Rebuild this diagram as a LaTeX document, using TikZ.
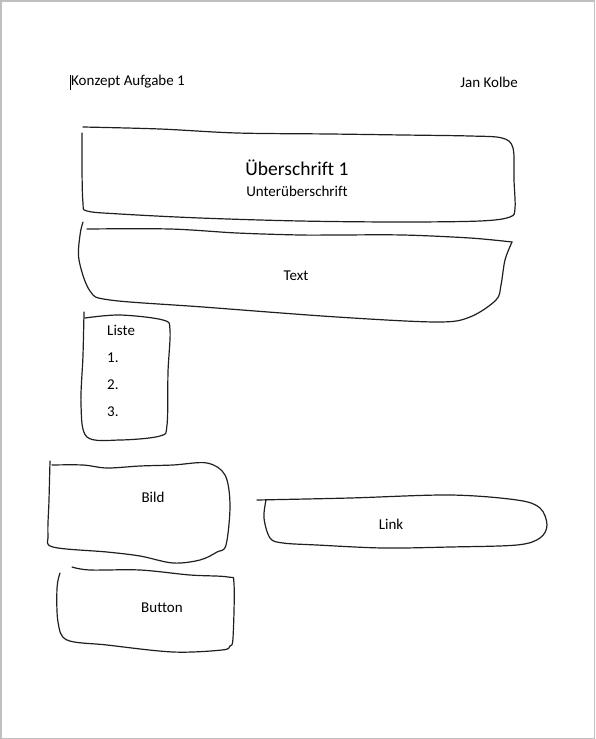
\documentclass[tikz,border=0pt]{standalone}
\usepackage{fontspec}
\setmainfont{Carlito}[Ligatures=NoCommon]
\begin{document}
\begin{tikzpicture}[x=1pt,y=-1pt,
  sketch/.style={line width=1.2pt, draw=black!88, line cap=round, line join=round},
  lbl/.style={inner sep=0pt, font=\fontsize{15}{18}\selectfont},
  head/.style={inner sep=0pt, font=\fontsize{19.5}{23}\selectfont}]
\useasboundingbox (0,0) rectangle (595,739);
\draw[draw=black!25, line width=1.5pt] (0.75,0.75) rectangle (594.25,738.25);
% header
\node[lbl, anchor=west] (konzept) at (71,82) {Konzept Aufgabe 1};
\node[lbl, anchor=east] (autor) at (518,82) {Jan Kolbe};
\draw[line width=0.9pt] (70.5,75) -- (70.5,90);
% box 1 Ueberschrift
\draw[sketch] plot[smooth, tension=0.55] coordinates {(83,127) (160,129) (237,133) (330,134) (403,135) (470,136) (502,138) (513,148) (514,180) (515,208) (510,217) (480,221) (400,222) (300,221) (200,218) (120,214) (87,211) (83,203) (82,170) (82,133)};
\node[head] (ueber) at (297,168) {Überschrift 1};
\node[lbl] (unter) at (297,191) {Unterüberschrift};
% box 2 Text
\draw[sketch] plot[smooth, tension=0.55] coordinates {(87,229) (170,229) (237,233) (300,235) (337,235) (403,235) (470,238) (512,242)};
\draw[sketch] plot[smooth, tension=0.55] coordinates {(512,242) (505,260) (501,285) (496,300) (470,317) (437,322) (337,317) (203,307) (110,300) (90,291) (79,260) (80,235) (83,222)};
\node[lbl] (text) at (296,276) {Text};
% box 3 Liste
\draw[sketch] plot[smooth, tension=0.55] coordinates {(85,318) (120,315) (163,320) (170,330) (168,372) (167,425) (160,436) (120,440) (87,437) (81,405) (83,355) (84,312)};
\node[lbl, anchor=west] (liste) at (107,330) {Liste};
\node[lbl, anchor=west] (l1) at (107,358) {1.};
\node[lbl, anchor=west] (l2) at (107,385) {2.};
\node[lbl, anchor=west] (l3) at (107,412) {3.};
% box 4 Bild
\draw[sketch] plot[smooth, tension=0.55] coordinates {(52,465) (83,465) (107,468) (140,466) (173,465) (207,463) (225,475) (230,505) (226,545) (217,552) (200,560) (173,563) (140,556) (107,552) (53,547) (48,535) (49,500) (50,461)};
\node[lbl] (bild) at (153,497) {Bild};
% box 5 Button
\draw[sketch] plot[smooth, tension=0.55] coordinates {(72,567) (90,570) (140,570) (190,575) (228,577) (234,584) (233,638) (230,646) (222,650) (173,652) (107,645) (67,640) (58,622) (57,588) (60,573)};
\node[lbl] (button) at (162,608) {Button};
% box 6 Link
\draw[sketch] plot[smooth, tension=0.55] coordinates {(257,500) (350,498) (450,495) (517,500) (540,508) (547,525) (540,538) (517,545) (450,547) (383,548) (317,545) (283,543) (270,538) (264,518) (266,500)};
\node[lbl] (link) at (391,524) {Link};
\end{tikzpicture}
\end{document}
